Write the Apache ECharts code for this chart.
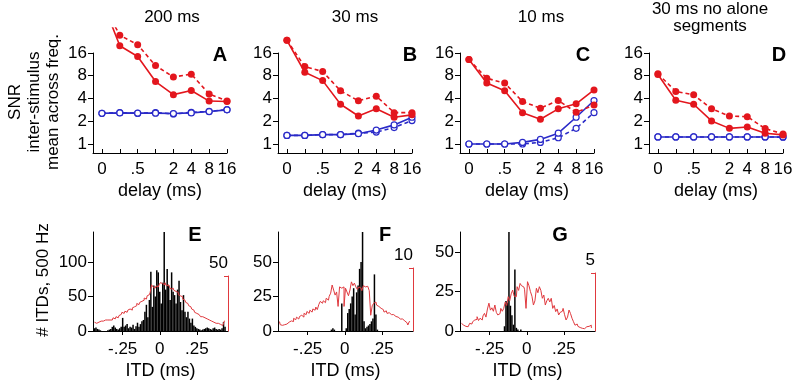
<!DOCTYPE html>
<html>
<head>
<meta charset="utf-8">
<script src="https://cdn.jsdelivr.net/npm/echarts@6/dist/echarts.min.js"></script>
<style>
  html, body { margin: 0; padding: 0; background: #fff; }
  #chart { width: 794px; height: 383px; }
</style>
</head>
<body>
<div id="chart"></div>
<script>
// delay axis (categories drawn at 0..7)
var delayTicks = [0, 1, 2, 3, 4, 5, 6, 7];
var delayLabels = ['0', '', '.5', '', '2', '4', '8', '16'];
var snrTicks = [1, 2, 4, 8, 16];

// SNR values, panels A-D
var aRedSolid = [80, 20, 14.4, 6.7, 4.5, 5.1, 3.7, 3.65];
var aRedDashed = [75, 27.5, 20.6, 10.9, 7.7, 8.4, 4.6, 3.7];
var aBlueSolid = [2.55, 2.58, 2.56, 2.56, 2.53, 2.58, 2.69, 2.83];
var aBlueDashed = [2.55, 2.6, 2.55, 2.6, 2.5, 2.62, 2.7, 2.85];
var bRedSolid = [23.6, 8.9, 6.9, 3.36, 2.35, 2.92, 2.26, 2.43];
var bRedDashed = [23.6, 10.6, 9.1, 5.06, 3.73, 4.3, 2.6, 2.6];
var bBlueSolid = [1.3, 1.3, 1.33, 1.33, 1.37, 1.53, 1.79, 2.26];
var bBlueDashed = [1.3, 1.3, 1.33, 1.33, 1.39, 1.44, 1.65, 2.04];
var cRedSolid = [13.1, 6.4, 5.06, 2.6, 2.13, 2.92, 3.4, 5.2];
var cRedDashed = [13.1, 7.4, 6.4, 3.65, 2.98, 3.76, 2.63, 3.27];
var cBlueSolid = [1.0, 1.0, 1.0, 1.05, 1.15, 1.39, 2.26, 3.76];
var cBlueDashed = [1.0, 1.0, 1.0, 1.0, 1.05, 1.21, 1.61, 2.6];
var dRedSolid = [8.3, 3.8, 3.36, 2.02, 1.61, 1.68, 1.39, 1.32];
var dRedDashed = [8.5, 4.96, 4.47, 2.92, 2.35, 2.3, 1.6, 1.36];
var dBlueSolid = [1.24, 1.24, 1.24, 1.24, 1.24, 1.24, 1.24, 1.24];
var dBlueDashed = [1.24, 1.24, 1.24, 1.24, 1.24, 1.24, 1.24, 1.23];

// ITD histograms, bins of .01 ms starting at -.44
var itdStart = -0.44, itdStep = 0.01;
var itdTicks = [-0.25, 0, 0.25];
var itdLabels = ['-.25', '0', '.25'];

var eBlack = [
  4, 5, 3, 2, 1, 0, 0, 0, 0, 1,
  2, 3, 6, 8, 5, 3, 2, 4, 6, 19,
  6, 8, 10, 4, 6, 5, 9, 3, 7, 12,
  6, 10, 14, 16, 28, 38, 20, 45, 86, 35,
  66, 50, 88, 85, 57, 40, 70, 144, 60, 90,
  66, 45, 85, 57, 52, 40, 60, 73, 42, 30,
  52, 28, 20, 28, 18, 12, 18, 8, 6, 4,
  3, 2, 1, 2, 3, 4, 5, 4, 3, 2,
  4, 5, 3, 2, 3, 2, 4, 13, 6
];
var eRed = [
  8, 7, 8, 8, 9, 8, 9, 10, 9, 10,
  10, 11, 10, 12, 11, 13, 12, 14, 15, 17,
  16, 18, 17, 19, 20, 19, 21, 22, 23, 25,
  24, 26, 27, 28, 30, 29, 32, 33, 35, 42,
  40, 39, 41, 40, 42, 44, 43, 42, 44, 41,
  42, 40, 38, 39, 37, 36, 35, 33, 32, 31,
  29, 28, 26, 25, 23, 22, 20, 19, 17, 16,
  15, 14, 13, 13, 12, 11, 11, 10, 9, 9,
  8, 8, 7, 7, 6, 6, 5, 6, 9
];
var fBlack = [
  0, 0, 0, 0, 0, 0, 0, 0, 0, 0,
  0, 0, 0, 0, 0, 0, 0, 0, 0, 0,
  0, 0, 0, 0, 0, 0, 0, 0, 0, 0,
  0, 0, 0, 0, 0, 1, 2, 1, 0, 0,
  0, 0, 20, 0, 0, 2, 13, 16, 20, 25,
  31, 12, 28, 33, 45, 50, 72, 7, 2, 3,
  4, 5, 7, 9, 41, 12, 1, 0, 0, 0,
  0, 0, 0, 0, 0, 0, 0, 0, 0, 0,
  0, 0, 0, 0, 0, 0, 0, 0, 0
];
var fRed = [
  1.5, 1.0, 0.9, 1.0, 1.2, 1.1, 1.4, 1.3, 1.6, 1.5,
  2.0, 1.8, 2.2, 1.9, 2.3, 2.5, 2.2, 2.8, 2.6, 3.1,
  2.8, 3.3, 3.0, 3.5, 3.3, 3.8, 3.4, 4.2, 4.7, 4.4,
  4.8, 4.5, 5.2, 4.9, 5.5, 6.0, 7.3, 6.5, 5.7, 6.2,
  3.9, 7.0, 6.8, 7.0, 3.9, 6.8, 6.2, 5.6, 6.5, 7.8,
  7.2, 7.6, 7.0, 6.6, 7.0, 6.8, 6.4, 7.2, 7.0, 7.1,
  7.0, 6.4, 2.5, 4.0, 4.4, 4.6, 4.1, 3.9, 3.6, 3.3,
  3.4, 3.0, 3.2, 2.8, 2.9, 2.6, 2.4, 2.6, 2.3, 2.1,
  2.2, 1.9, 1.8, 1.9, 1.6, 1.5, 1.3, 0.95, 1.5
];
var gBlack = [
  0, 0, 0, 0, 0, 0, 0, 0, 0, 0,
  0, 0, 0, 0, 0, 0, 0, 0, 0, 0,
  0, 0, 0, 0, 0, 0, 0, 0, 0, 3,
  19, 18, 63, 16, 10, 4, 39, 2, 1, 0,
  1, 0, 0, 0, 0, 0, 0, 0, 0, 0,
  0, 0, 0, 0, 0, 0, 0, 0, 0, 0,
  0, 0, 0, 0, 0, 0, 0, 0, 0, 0,
  0, 0, 0, 0, 0, 0, 0, 0, 0, 0,
  0, 0, 0, 0, 0, 0, 0, 0, 0
];
var gRed = [
  0.66, 0.5, 0.5, 0.4, 0.37, 0.5, 0.66, 0.6, 0.8, 0.95,
  1.0, 1.23, 0.9, 1.1, 0.95, 1.3, 1.52, 1.2, 1.9, 2.4,
  1.8, 2.0, 1.7, 2.24, 1.6, 1.38, 1.5, 1.95, 1.7, 1.95,
  2.5, 2.2, 2.96, 2.6, 3.2, 3.53, 3.0, 2.96, 3.82, 3.5,
  4.1, 3.9, 3.8, 3.6, 1.95, 4.25, 3.9, 3.39, 3.0, 2.24,
  2.6, 3.68, 3.3, 3.82, 3.5, 2.82, 3.1, 2.24, 2.6, 2.82,
  2.5, 2.82, 1.95, 2.2, 1.67, 1.9, 1.38, 1.6, 1.7, 1.95,
  1.4, 0.95, 1.2, 1.81, 1.5, 1.1, 0.8, 0.5, 0.6, 0.4,
  0.3, 0.23, 0.3, 0.2, 0.37, 0.3, 0.4, 0.5, 0.3
];
var countTicksE = [0, 50, 100];
var countTicksFG = [0, 25, 50];

(function (echarts) {
  "use strict";

  var FONT = '"Liberation Sans", Arial, sans-serif'
    , RED = '#e3161d'
    , HIST_RED = '#e0393e'
    , BLUE = '#2a2ac8'
    , grids = []
    , xAxes = []
    , yAxes = []
    , series = [];

  // onZero off, otherwise the axes jump to the other axis' zero
  var axisLine = { show: true, onZero: false, lineStyle: { color: '#000', width: 1 } };
  var labelStyle = { color: '#000', fontSize: 17, fontFamily: FONT };

  function log2Points(values) {
    return values.map(function (v, i) { return [i, Math.log2(v)]; });
  }

  function itdPoints(values) {
    return values.map(function (v, i) { return [+(itdStart + i * itdStep).toFixed(3), v]; });
  }

  function addGrid(left, top, width, height) {
    grids.push({ left: left, top: top, width: width, height: height, outerBoundsMode: 'none' });
    return grids.length - 1;
  }

  /**
   * one SNR panel: a visible axis grid and a taller data grid so that
   * the lines can rise above 16 and get clipped like the original
   */
  function snrPanel(left, redSolid, redDashed, blueSolid, blueDashed) {
    var gi = addGrid(left, 53, 134, 100)
      , di = addGrid(left, 28, 134, 125);

    xAxes.push({
      gridIndex: gi, type: 'value', min: -0.5, max: 7,
      axisLine: axisLine, splitLine: { show: false },
      axisTick: { customValues: delayTicks, inside: true, length: 4, lineStyle: { color: '#000' } },
      axisLabel: Object.assign({ customValues: delayTicks, margin: 8, formatter: function (v) { return delayLabels[Math.round(v)]; } }, labelStyle),
      name: 'delay (ms)', nameLocation: 'middle', nameGap: 29,
      nameTextStyle: { color: '#000', fontSize: 18, fontFamily: FONT }
    });
    yAxes.push({
      gridIndex: gi, type: 'value', min: Math.log2(0.76), max: 4,
      axisLine: axisLine, splitLine: { show: false },
      axisTick: { customValues: [0, 1, 2, 3, 4], length: 5, lineStyle: { color: '#000' } },
      axisLabel: Object.assign({ customValues: [0, 1, 2, 3, 4], margin: 6, formatter: function (v) { return String(snrTicks[Math.round(v)]); } }, labelStyle)
    });
    xAxes.push({ gridIndex: di, type: 'value', min: -0.5, max: 7, show: false });
    yAxes.push({ gridIndex: di, type: 'value', min: Math.log2(0.76), max: 5.1, show: false });

    var xi = xAxes.length - 1, yi = yAxes.length - 1;
    function line(values, color, dashed, hollow) {
      series.push({
        type: 'line', xAxisIndex: xi, yAxisIndex: yi, data: log2Points(values),
        symbol: 'circle', symbolSize: hollow ? 6 : 7, clip: true,
        lineStyle: { color: color, width: 1.6, type: dashed ? [4, 3] : 'solid' },
        itemStyle: hollow ? { color: '#fff', borderColor: color, borderWidth: 1.2 } : { color: color },
        z: hollow ? 3 : 4
      });
    }
    line(blueDashed, BLUE, true, true);
    line(blueSolid, BLUE, false, true);
    line(redDashed, RED, true, false);
    line(redSolid, RED, false, false);
  }

  /**
   * one ITD histogram panel plus the red scale bar on its right
   */
  function itdPanel(left, black, red, countMax, countTicks, barMax, barHeight) {
    var gi = addGrid(left, 232, 135, 99)
      , bi = addGrid(left, 331 - barHeight, 135, barHeight);

    xAxes.push({
      gridIndex: gi, type: 'value', min: -0.45, max: 0.46,
      axisLine: axisLine, splitLine: { show: false },
      axisTick: { customValues: itdTicks, length: 4, lineStyle: { color: '#000' } },
      axisLabel: Object.assign({ customValues: itdTicks, margin: 10, formatter: function (v) { return itdLabels[itdTicks.indexOf(v)]; } }, labelStyle),
      name: 'ITD (ms)', nameLocation: 'middle', nameGap: 31,
      nameTextStyle: { color: '#000', fontSize: 18, fontFamily: FONT }
    });
    yAxes.push({
      gridIndex: gi, type: 'value', min: 0, max: countMax,
      axisLine: axisLine, splitLine: { show: false },
      axisTick: { customValues: countTicks, length: 5, lineStyle: { color: '#000' } },
      axisLabel: Object.assign({ customValues: countTicks, margin: 6 }, labelStyle)
    });
    series.push({
      type: 'bar', xAxisIndex: xAxes.length - 1, yAxisIndex: yAxes.length - 1,
      data: itdPoints(black), barWidth: 1.5, itemStyle: { color: '#000' }, z: 2
    });

    xAxes.push({ gridIndex: bi, type: 'value', min: -0.45, max: 0.46, show: false });
    yAxes.push({
      gridIndex: bi, type: 'value', position: 'right', min: 0, max: barMax,
      axisLine: { show: true, onZero: false, lineStyle: { color: HIST_RED, width: 1 } },
      axisTick: { customValues: [barMax], inside: true, length: 4, lineStyle: { color: HIST_RED } },
      axisLabel: { show: false }, splitLine: { show: false },
      name: String(barMax), nameLocation: 'end', nameGap: 4,
      nameTextStyle: { color: '#000', fontSize: 17, fontFamily: FONT, align: 'right' }
    });
    series.push({
      type: 'line', step: 'middle', xAxisIndex: xAxes.length - 1, yAxisIndex: yAxes.length - 1,
      data: itdPoints(red), symbol: 'none', clip: false,
      lineStyle: { color: HIST_RED, width: 1 }, z: 5
    });
  }

  snrPanel(93, aRedSolid, aRedDashed, aBlueSolid, aBlueDashed);
  snrPanel(278, bRedSolid, bRedDashed, bBlueSolid, bBlueDashed);
  snrPanel(460, cRedSolid, cRedDashed, cBlueSolid, cBlueDashed);
  snrPanel(649, dRedSolid, dRedDashed, dBlueSolid, dBlueDashed);

  itdPanel(93, eBlack, eRed, 143.5, countTicksE, 50, 55);
  itdPanel(278, fBlack, fRed, 71.7, countTicksFG, 10, 63);
  itdPanel(460, gBlack, gRed, 62.7, countTicksFG, 5, 58);

  function text(str, x, y, size, weight, rotate) {
    return {
      type: 'text', x: x, y: y, rotation: rotate ? Math.PI / 2 : 0, silent: true,
      style: {
        text: str, fill: '#000', font: (weight || 'normal') + ' ' + size + 'px ' + FONT,
        textAlign: 'center', textVerticalAlign: 'middle', align: 'center', verticalAlign: 'middle',
        lineHeight: rotate ? 19 : 17
      }
    };
  }

  var chart = echarts.init(document.getElementById('chart'));
  chart.setOption({
    animation: false,
    backgroundColor: '#fff',
    grid: grids,
    xAxis: xAxes,
    yAxis: yAxes,
    series: series,
    graphic: [
      text('200 ms', 172, 17, 17),
      text('30 ms', 355, 17, 17),
      text('10 ms', 541, 17, 17),
      text('30 ms no alone\nsegments', 710, 18, 17),
      text('A', 220, 55, 20, 'bold'),
      text('B', 410, 55, 20, 'bold'),
      text('C', 583, 55, 20, 'bold'),
      text('D', 779, 55, 20, 'bold'),
      text('E', 195, 235, 20, 'bold'),
      text('F', 385, 235, 20, 'bold'),
      text('G', 560, 235, 20, 'bold'),
      text('SNR\ninter-stimulus\nmean across freq.', 34, 102, 17, 'normal', true),
      text('# ITDs, 500 Hz', 43, 280, 17, 'normal', true)
    ]
  });
})(echarts);
</script>
</body>
</html>
